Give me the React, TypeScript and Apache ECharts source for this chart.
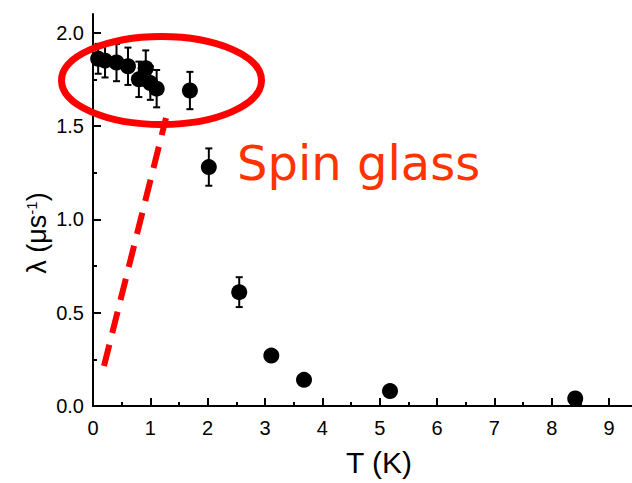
import React, { useEffect, useRef } from "react";
import * as echarts from "echarts";

const tempK = [0.09, 0.21, 0.41, 0.61, 0.8, 0.92, 1.0, 1.11, 1.69, 2.02, 2.55, 3.11, 3.68, 5.18, 8.41];
const lambda = [1.86, 1.85, 1.84, 1.82, 1.75, 1.81, 1.73, 1.7, 1.69, 1.28, 0.61, 0.27, 0.14, 0.08, 0.04];
const lambdaErr = [0.08, 0.09, 0.1, 0.1, 0.095, 0.095, 0.09, 0.1, 0.1, 0.1, 0.08, 0.02, 0.02, 0.015, 0.015];
const xMajor = [0, 1, 2, 3, 4, 5, 6, 7, 8, 9];
const xMinor = [0.5, 1.5, 2.5, 3.5, 4.5, 5.5, 6.5, 7.5, 8.5];
const yMajor = [0, 0.5, 1.0, 1.5, 2.0];
const yMinor = [0.25, 0.75, 1.25, 1.75];
const xTitle = "T (K)";
const yTitle = "λ (μs{sup|-1})";
const noteText = "Spin glass";

export default function App() {
  const ref = useRef<HTMLDivElement>(null);
  useEffect(() => {
    if (!ref.current) return;
    const chart = echarts.init(ref.current, null, { renderer: "svg" });
    const font = "Liberation Sans";
    const points = tempK.map((t, i) => [t, lambda[i]]);
    const errs = tempK.map((t, i) => [t, lambda[i] - lambdaErr[i], lambda[i] + lambdaErr[i]]);
    const xBase = { type: "value", min: 0, max: 9.4, gridIndex: 0 };
    const yBase = { type: "value", min: 0, max: 2.1, gridIndex: 0 };
    chart.setOption({
      animation: false,
      backgroundColor: "#ffffff",
      grid: { left: 93, right: 0, top: 14, bottom: 77 },
      xAxis: [
        {
          ...xBase,
          axisLine: { show: true, onZero: false, lineStyle: { color: "#000", width: 2 } },
          axisTick: { show: true, inside: true, length: 8, customValues: xMajor, lineStyle: { color: "#000", width: 2 } },
          axisLabel: { customValues: xMajor, fontFamily: font, fontSize: 20, color: "#000", margin: 12 },
          splitLine: { show: false },
        },
        {
          ...xBase,
          position: "bottom",
          axisLine: { show: false },
          axisTick: { show: true, inside: true, length: 4, customValues: xMinor, lineStyle: { color: "#000", width: 2 } },
          axisLabel: { show: false },
          splitLine: { show: false },
        },
      ],
      yAxis: [
        {
          ...yBase,
          axisLine: { show: true, onZero: false, lineStyle: { color: "#000", width: 2 } },
          axisTick: { show: true, inside: true, length: 8, customValues: yMajor, lineStyle: { color: "#000", width: 2 } },
          axisLabel: {
            customValues: yMajor,
            fontFamily: font,
            fontSize: 20,
            color: "#000",
            margin: 9,
            formatter: (v: number) => v.toFixed(1),
          },
          splitLine: { show: false },
        },
        {
          ...yBase,
          position: "left",
          axisLine: { show: false },
          axisTick: { show: true, inside: true, length: 4, customValues: yMinor, lineStyle: { color: "#000", width: 2 } },
          axisLabel: { show: false },
          splitLine: { show: false },
        },
      ],
      series: [
        {
          type: "custom",
          xAxisIndex: 0,
          yAxisIndex: 0,
          data: errs,
          z: 3,
          renderItem: (params: any, api: any) => {
            const x = api.value(0);
            const lo = api.coord([x, api.value(1)]);
            const hi = api.coord([x, api.value(2)]);
            const cap = 3.5;
            const style = { stroke: "#000", lineWidth: 2 };
            return {
              type: "group",
              children: [
                { type: "line", shape: { x1: lo[0], y1: lo[1], x2: hi[0], y2: hi[1] }, style },
                { type: "line", shape: { x1: lo[0] - cap, y1: lo[1], x2: lo[0] + cap, y2: lo[1] }, style },
                { type: "line", shape: { x1: hi[0] - cap, y1: hi[1], x2: hi[0] + cap, y2: hi[1] }, style },
              ],
            };
          },
        },
        {
          type: "scatter",
          xAxisIndex: 0,
          yAxisIndex: 0,
          data: points,
          symbol: "circle",
          symbolSize: 16,
          itemStyle: { color: "#000", opacity: 1 },
          z: 4,
        },
      ],
      graphic: [
        {
          type: "text",
          x: 379,
          y: 462,
          style: {
            text: xTitle,
            fontFamily: font,
            fontSize: 30,
            fill: "#000",
            align: "center",
            verticalAlign: "middle",
          },
        },
        {
          type: "text",
          x: 37,
          y: 233,
          rotation: Math.PI / 2,
          style: {
            text: yTitle,
            fontFamily: font,
            fontSize: 27,
            fill: "#000",
            align: "center",
            verticalAlign: "middle",
            rich: {
              sup: { fontFamily: font, fontSize: 15, fill: "#000", verticalAlign: "top", padding: [0, 0, 11, 0] },
            },
          },
        },
        {
          type: "line",
          shape: { x1: 104, y1: 366, x2: 166, y2: 118 },
          style: { stroke: "#ff0000", lineWidth: 6, lineDash: [22, 12] },
          z: 10,
        },
        {
          type: "ellipse",
          shape: { cx: 161.5, cy: 80.5, rx: 100, ry: 44 },
          style: { fill: "none", stroke: "#ff0000", lineWidth: 7 },
          z: 10,
        },
        {
          type: "text",
          x: 237,
          y: 163,
          style: {
            text: noteText,
            fontFamily: "DejaVu Sans",
            fontSize: 48,
            fill: "#ff3300",
            verticalAlign: "middle",
          },
          z: 10,
        },
      ],
    });
    return () => chart.dispose();
  }, []);
  return <div ref={ref} style={{ position: "fixed", left: 0, top: 0, width: 632, height: 483 }} />;
}
